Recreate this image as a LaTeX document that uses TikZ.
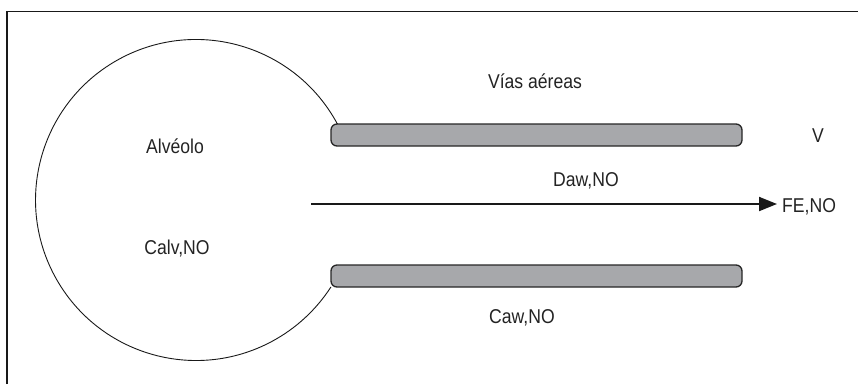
\documentclass[tikz,border=0pt]{standalone}
\usepackage{fontspec}
\setmainfont{Liberation Sans}[FakeStretch=0.88]
\usetikzlibrary{arrows.meta}
\definecolor{tubegray}{HTML}{A7A8AB}
\definecolor{txt}{HTML}{232323}
\begin{document}
\begin{tikzpicture}[x=1pt,y=-1pt,
  lbl/.style={inner sep=0pt,text=txt,font=\fontsize{20}{24}\selectfont},
  tube/.style={draw=black!85,fill=tubegray,line width=1.3pt,rounded corners=6pt,minimum width=411pt,minimum height=22pt,inner sep=0pt},
  frameline/.style={line width=1.5pt,black!90},
  flow/.style={line width=1.9pt,black!90,-{Triangle[length=18pt,width=14pt]}}]
\useasboundingbox (0,0) rectangle (858,384);
% frame
\coordinate (ftl) at (7,11.5);
\coordinate (ftr) at (858,11.5);
\coordinate (fbl) at (7,384);
\draw[frameline] (fbl) -- (ftl) -- (ftr);
% tubes
\node[tube] (uptube) at (536.5,135) {};
\node[tube] (lowtube) at (536.5,276) {};
% alveolus arc (center 196,200, r 160.5)
\draw[line width=0.9pt,black!90]
  (337.4,124) arc[start angle=-28.26,end angle=-327.2,radius=160.5];
% labels
\node[lbl,anchor=base] (vias) at (535,88) {Vías aéreas};
\node[lbl,anchor=base] (alv) at (175,153) {Alvéolo};
\node[lbl,anchor=base] (calv) at (177,254) {Calv,NO};
\node[lbl,anchor=base] (daw) at (586,186) {Daw,NO};
\node[lbl,anchor=base] (v) at (818,142) {V};
\node[lbl,anchor=base] (caw) at (522,323) {Caw,NO};
\node[lbl,anchor=base west] (fe) at (782,212) {FE,NO};
% flow arrow
\coordinate (fstart) at (311,204);
\draw[flow,shorten >=5pt] (fstart) -- (fstart -| fe.west);
\end{tikzpicture}
\end{document}
